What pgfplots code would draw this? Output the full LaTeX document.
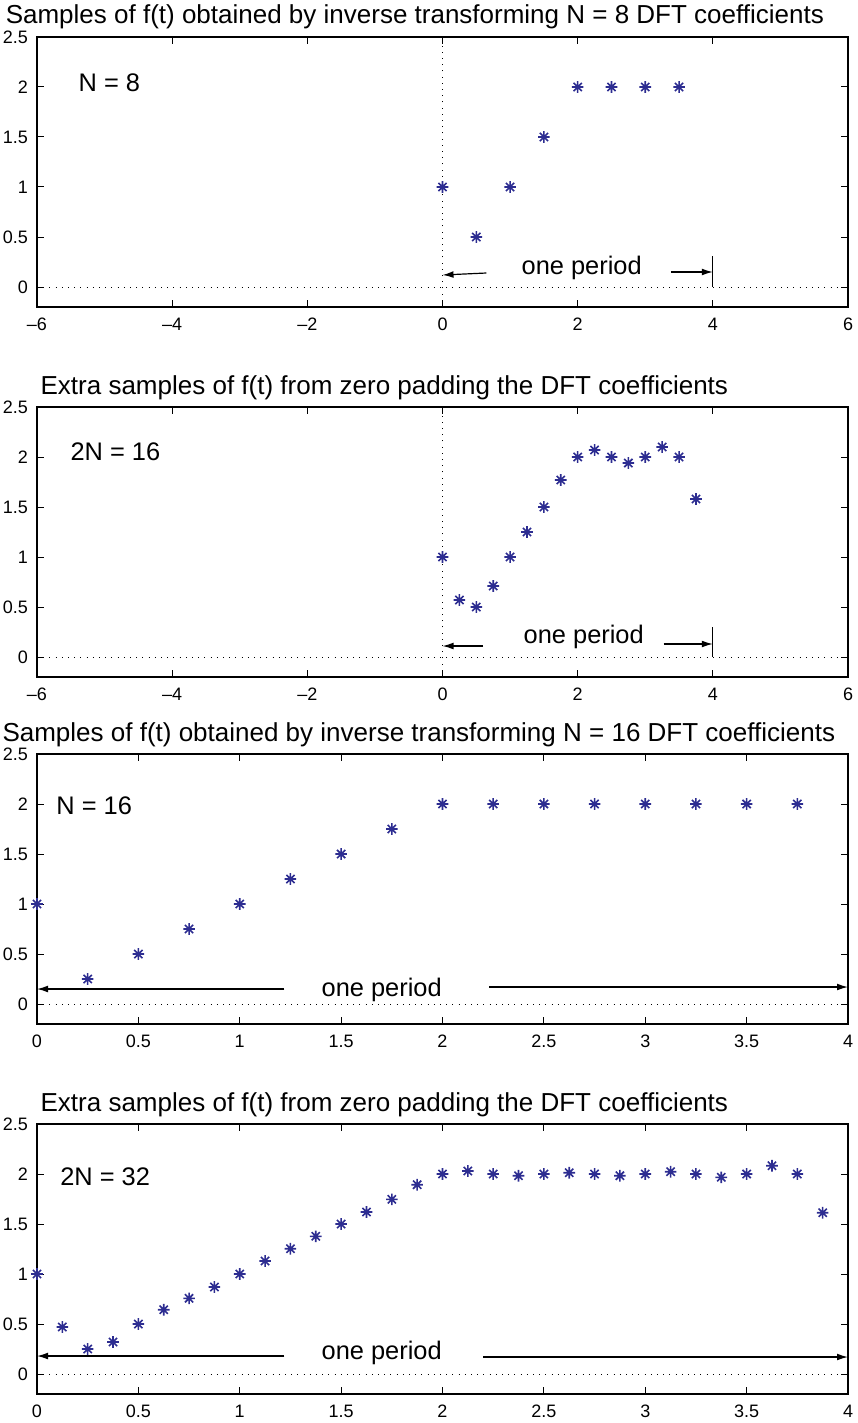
\documentclass[border=0pt]{standalone}
\usepackage{fontspec}
\setmainfont{Liberation Sans}
\usepackage{pgfplots}
\pgfplotsset{compat=1.18}
\usetikzlibrary{arrows.meta}

\definecolor{mblue}{RGB}{45,45,145}

% MATLAB-style '*' marker: a + and an x on top of each other
\pgfdeclareplotmark{mstar}{%
  \pgfpathmoveto{\pgfqpoint{-\pgfplotmarksize}{0pt}}%
  \pgfpathlineto{\pgfqpoint{\pgfplotmarksize}{0pt}}%
  \pgfpathmoveto{\pgfqpoint{0pt}{-\pgfplotmarksize}}%
  \pgfpathlineto{\pgfqpoint{0pt}{\pgfplotmarksize}}%
  \pgfpathmoveto{\pgfqpoint{-0.707\pgfplotmarksize}{-0.707\pgfplotmarksize}}%
  \pgfpathlineto{\pgfqpoint{0.707\pgfplotmarksize}{0.707\pgfplotmarksize}}%
  \pgfpathmoveto{\pgfqpoint{-0.707\pgfplotmarksize}{0.707\pgfplotmarksize}}%
  \pgfpathlineto{\pgfqpoint{0.707\pgfplotmarksize}{-0.707\pgfplotmarksize}}%
  \pgfusepathqstroke}

\pgfplotsset{
  mstyle/.style={
    width=405.5pt, height=135pt, scale only axis,
    anchor=south west, clip=false,
    ymin=-0.2, ymax=2.5, ytick={0,0.5,1,1.5,2,2.5},
    tick align=inside, major tick length=3.5pt,
    axis line style={line width=0.6pt}, tick style={line width=0.5pt, black},
    /pgf/number format/assume math mode=true,
    ticklabel style={font=\fontsize{9}{10}\selectfont},
    yticklabel style={xshift=-1pt},
    xticklabel style={yshift=-2pt},
    title style={anchor=base west, yshift=0.5pt, inner sep=0pt,
      font=\fontsize{13}{15}\selectfont},
  },
  pts/.style={only marks, mark=mstar, mark size=2.9pt, color=mblue,
    mark options={line width=0.8pt}},
  zl/.style={black, line width=0.5pt, dash pattern=on 0.5pt off 2.6pt},
}
\tikzset{
  lbl/.style={font=\fontsize{12.7}{15}\selectfont},
  arr/.style={line width=0.6pt, -{Latex[length=5.5pt,width=3.4pt]}},
}

\begin{document}
\begin{tikzpicture}
\path[use as bounding box] (0,0) rectangle (428.5pt,-711.5pt);

% ---------- 1: N = 8 ----------
\begin{axis}[mstyle, at={(18.5pt,-153.5pt)},
  xmin=-6, xmax=6, xtick={-6,-4,...,6},
  xticklabels={\textendash6,\textendash4,\textendash2,0,2,4,6},
  title={Samples of f(t) obtained by inverse transforming N = 8 DFT coefficients},
  title style={at={(axis description cs:-0.039,1)}}]
\addplot[zl] coordinates {(-6,0) (6,0)};
\addplot[zl] coordinates {(0,-0.2) (0,2.5)};
\addplot[pts] coordinates {
  (0,1) (0.5,0.5) (1,1) (1.5,1.5) (2,2) (2.5,2) (3,2) (3.5,2)};
\node[lbl, anchor=west, inner sep=0pt] at (axis cs:-5.39,2.04) {N = 8};
\node[lbl] at (axis cs:2.06,0.19) {one period};
\draw[arr] (axis cs:0.65,0.14) -- (axis cs:0,0.12);
\draw[arr] (axis cs:3.38,0.15) -- (axis cs:4,0.15);
\draw[line width=0.6pt] (axis cs:4,0.31) -- (axis cs:4,0);
\end{axis}

% ---------- 2: 2N = 16 ----------
\begin{axis}[mstyle, at={(18.5pt,-338.5pt)},
  xmin=-6, xmax=6, xtick={-6,-4,...,6},
  xticklabels={\textendash6,\textendash4,\textendash2,0,2,4,6},
  title={Extra samples of f(t) from zero padding the DFT coefficients},
  title style={at={(axis description cs:0.004,1)}}]
\addplot[zl] coordinates {(-6,0) (6,0)};
\addplot[zl] coordinates {(0,-0.2) (0,2.5)};
\addplot[pts] coordinates {
  (0,1) (0.25,0.57) (0.5,0.5) (0.75,0.71) (1,1) (1.25,1.25) (1.5,1.5)
  (1.75,1.77) (2,2) (2.25,2.07) (2.5,2) (2.75,1.94) (3,2) (3.25,2.1)
  (3.5,2) (3.75,1.58)};
\node[lbl, anchor=west, inner sep=0pt] at (axis cs:-5.51,2.05) {2N = 16};
\node[lbl] at (axis cs:2.09,0.2) {one period};
\draw[arr] (axis cs:0.6,0.11) -- (axis cs:0,0.11);
\draw[arr] (axis cs:3.27,0.13) -- (axis cs:4,0.13);
\draw[line width=0.6pt] (axis cs:4,0.3) -- (axis cs:4,0);
\end{axis}

% ---------- 3: N = 16 ----------
\begin{axis}[mstyle, at={(18.5pt,-512pt)},
  xmin=0, xmax=4, xtick={0,0.5,...,4},
  title={Samples of f(t) obtained by inverse transforming N = 16 DFT coefficients},
  title style={at={(axis description cs:-0.043,1)}}]
\addplot[zl] coordinates {(0,0) (4,0)};
\addplot[pts] coordinates {
  (0,1) (0.25,0.25) (0.5,0.5) (0.75,0.75) (1,1) (1.25,1.25) (1.5,1.5)
  (1.75,1.75) (2,2) (2.25,2) (2.5,2) (2.75,2) (3,2) (3.25,2) (3.5,2) (3.75,2)};
\node[lbl, anchor=west, inner sep=0pt] at (axis cs:0.094,1.98) {N = 16};
\node[lbl] at (axis cs:1.7,0.14) {one period};
\draw[arr] (axis cs:1.22,0.15) -- (axis cs:0,0.15);
\draw[arr] (axis cs:2.23,0.17) -- (axis cs:4,0.17);
\end{axis}

% ---------- 4: 2N = 32 ----------
\begin{axis}[mstyle, at={(18.5pt,-697pt)},
  xmin=0, xmax=4, xtick={0,0.5,...,4},
  title={Extra samples of f(t) from zero padding the DFT coefficients},
  title style={at={(axis description cs:0.004,1)}}]
\addplot[zl] coordinates {(0,0) (4,0)};
\addplot[pts] coordinates {
  (0,1) (0.125,0.47) (0.25,0.25) (0.375,0.32) (0.5,0.5) (0.625,0.643)
  (0.75,0.757) (0.875,0.87) (1,1) (1.125,1.13) (1.25,1.253) (1.375,1.377)
  (1.5,1.5) (1.625,1.62) (1.75,1.747) (1.875,1.893) (2,2) (2.125,2.03)
  (2.25,2) (2.375,1.983) (2.5,2) (2.625,2.013) (2.75,2) (2.875,1.983)
  (3,2) (3.125,2.023) (3.25,2) (3.375,1.967) (3.5,2) (3.625,2.083)
  (3.75,2) (3.875,1.613)};
\node[lbl, anchor=west, inner sep=0pt] at (axis cs:0.113,1.97) {2N = 32};
\node[lbl] at (axis cs:1.7,0.21) {one period};
\draw[arr] (axis cs:1.22,0.18) -- (axis cs:0,0.18);
\draw[arr] (axis cs:2.2,0.17) -- (axis cs:4,0.17);
\end{axis}
\end{tikzpicture}
\end{document}
